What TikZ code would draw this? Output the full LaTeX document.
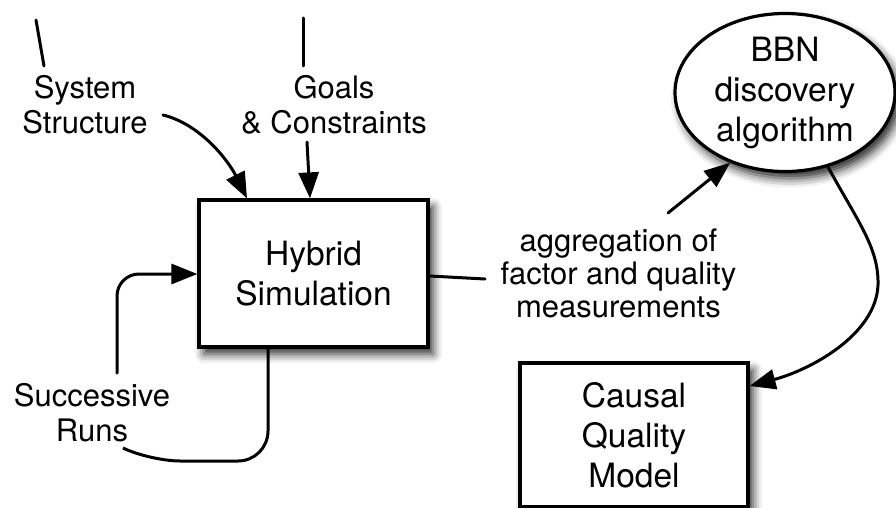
\documentclass[tikz,border=0pt]{standalone}
\usepackage{fontspec}
\setmainfont{TeX Gyre Heros}
\usetikzlibrary{arrows.meta,shapes.geometric,shadows.blur}

\tikzset{
  boxtext/.style={font=\fontsize{33.5}{40}\selectfont, align=center},
  labeltext/.style={font=\fontsize{31}{35}\selectfont, align=center, inner sep=0pt},
  shade3/.style={blur shadow={shadow xshift=5pt, shadow yshift=-7pt,
      shadow blur radius=9pt, shadow opacity=85}},
  procbox/.style={boxtext, draw, line width=3.2pt, fill=white, shade3,
      rectangle, inner sep=0pt},
  algoell/.style={boxtext, draw, line width=3.2pt, fill=white, shade3,
      ellipse, inner sep=0pt},
  conn/.style={line width=3pt, line cap=round},
  arr/.style={conn, -{Triangle[length=26pt,width=20pt]}},
}

\begin{document}
\begin{tikzpicture}[x=1pt, y=-1pt]
  \useasboundingbox (0,0) rectangle (896,508);

  % main blocks
  \node[procbox, minimum width=229pt, minimum height=147pt]
    (hyb) at (313.5,273.5) {Hybrid\\Simulation};
  \node[algoell, minimum width=220pt, minimum height=145pt]
    (bbn) at (785,92.5) {BBN\\discovery\\algorithm};
  \node[procbox, minimum width=228pt, minimum height=144pt]
    (cqm) at (634,435) {Causal\\Quality\\Model};

  % labels
  \node[labeltext] (sys) at (85,104.5) {System\\Structure};
  \node[labeltext] (goals) at (334,104.5) {Goals\\\& Constraints};
  \node[labeltext] (runs) at (92,412.5) {Successive\\Runs};
  \node[labeltext, font=\fontsize{31}{33}\selectfont]
    (agg) at (618.5,273) {aggregation of\\factor and quality\\measurements};

  % free ends of connectors
  \coordinate (sysTop) at (36,20);
  \coordinate (sysLow) at (44,66);
  \coordinate (goalsTop) at (303,18);
  \coordinate (goalsLow) at (303,66);
  \coordinate (sysOut) at (163,115);
  \coordinate (goalsOut) at (307,142);
  \coordinate (runsIn) at (123,448);
  \coordinate (runsOut) at (117,373);
  \coordinate (aggIn) at (485,279);
  \coordinate (aggOut) at (668,213);

  % inputs from above
  \draw[conn] (sysTop) -- (sysLow);
  \draw[conn] (goalsTop) -- (goalsLow);
  \draw[arr] (sysOut) .. controls (200,124) and (228,160) .. (hyb.north -| 247,0);
  \draw[arr] (goalsOut) -- (hyb.north -| 310,0);

  % feedback loop of successive runs
  \draw[conn, rounded corners=30pt]
    (hyb.south -| 268,0) -- (268,461) -- (150,461) -- (runsIn);
  \draw[arr, rounded corners=22pt]
    (runsOut) -- (117,274) -- (hyb.west |- 0,274);

  % measurements to the discovery algorithm
  \draw[conn] (hyb.east |- 0,276) -- (aggIn);
  \draw[arr] (aggOut) -- (bbn.232);

  % discovery algorithm to causal model
  \draw[arr] (bbn.300) .. controls (858,222) and (879,248) .. (878,285)
    .. controls (876,335) and (810,370) .. (cqm.east |- 0,386);
\end{tikzpicture}
\end{document}
